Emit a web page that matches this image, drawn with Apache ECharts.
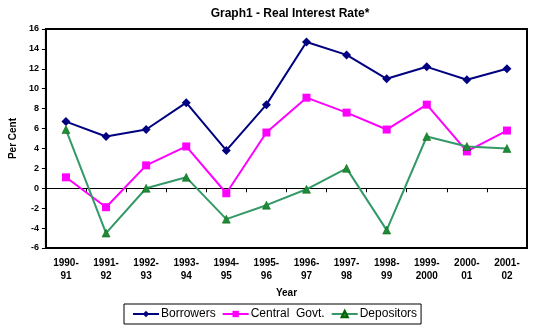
<!DOCTYPE html>
<html><head><meta charset="utf-8">
<script src="https://cdn.jsdelivr.net/npm/echarts@6/dist/echarts.min.js"></script>
<style>html,body{margin:0;padding:0;background:#fff}#c{width:541px;height:336px}</style>
</head><body><div id="c"></div>
<script>
const categories = ['1990-\n91','1991-\n92','1992-\n93','1993-\n94','1994-\n95','1995-\n96','1996-\n97','1997-\n98','1998-\n99','1999-\n2000','2000-\n01','2001-\n02'];
const borrowers = [6.7, 5.2, 5.9, 8.6, 3.8, 8.4, 14.7, 13.4, 11.0, 12.2, 10.9, 12.0];
const centralGovt = [1.1, -1.9, 2.3, 4.2, -0.5, 5.6, 9.1, 7.6, 5.9, 8.4, 3.7, 5.8];
const depositors = [5.9, -4.5, 0.0, 1.1, -3.1, -1.7, -0.1, 2.0, -4.2, 5.2, 4.2, 4.0];
const yTicks = {min: -6, max: 16, interval: 2};

const chart = echarts.init(document.getElementById('c'), null, {renderer: 'canvas'});
const font = 'Liberation Sans, Arial, sans-serif';
chart.setOption({
  animation: false,
  backgroundColor: '#fff',
  title: {
    text: 'Graph1 - Real Interest Rate*', left: 285, top: 3, textAlign: 'center',
    textStyle: {fontFamily: font, fontSize: 12, fontWeight: 'bold', color: '#000'}
  },
  grid: {left: 40, right: 14, top: 29, bottom: 88, show: true, borderColor: '#000', borderWidth: 2, backgroundColor: 'transparent'},
  legend: {
    left: 124, top: 304, width: 298,
    itemWidth: 26, itemHeight: 8, itemGap: 6,
    padding: [4, 4, 4, 8],
    borderColor: '#000', borderWidth: 1,
    textStyle: {fontFamily: font, fontSize: 12, color: '#000', padding: [0,0,0,-3]},
    data: ['Borrowers', 'Central  Govt.', 'Depositors']
  },
  xAxis: [{
    type: 'category', data: categories, position: 'bottom',
    axisLine: {show: false, onZero: false}, axisTick: {show: false},
    axisLabel: {fontFamily: font, fontSize: 10, fontWeight: 'bold', color: '#000', margin: 9, lineHeight: 13, interval: 0},
    name: 'Year', nameLocation: 'middle', nameGap: 40,
    nameTextStyle: {fontFamily: font, fontSize: 10, fontWeight: 'bold', color: '#000'}
  }, {
    type: 'category', data: categories, position: 'bottom',
    axisLine: {show: true, onZero: true, lineStyle: {color: '#000', width: 1}},
    axisTick: {show: true, length: 4, lineStyle: {color: '#000'}},
    axisLabel: {show: false}
  }],
  yAxis: {
    type: 'value', min: yTicks.min, max: yTicks.max, interval: yTicks.interval,
    axisLine: {show: true, lineStyle: {color: '#000', width: 2}},
    axisTick: {show: true, length: 4, lineStyle: {color: '#000'}},
    splitLine: {show: false},
    axisLabel: {fontFamily: font, fontSize: 9, fontWeight: 'bold', color: '#000', margin: 7},
    name: 'Per Cent', nameLocation: 'middle', nameGap: 24, nameRotate: 90,
    nameTextStyle: {fontFamily: font, fontSize: 10, fontWeight: 'bold', color: '#000'}
  },
  series: [{
    name: 'Borrowers', type: 'line', data: borrowers,
    symbol: 'diamond', symbolSize: 9,
    lineStyle: {color: '#000080', width: 2}, itemStyle: {color: '#000080'}
  }, {
    name: 'Central  Govt.', type: 'line', data: centralGovt,
    symbol: 'rect', symbolSize: 8,
    lineStyle: {color: '#FF00FF', width: 2}, itemStyle: {color: '#FF00FF'}
  }, {
    name: 'Depositors', type: 'line', data: depositors,
    symbol: 'triangle', symbolSize: 8,
    lineStyle: {color: '#339966', width: 2}, itemStyle: {color: '#1f8a3a', borderColor: '#006400', borderWidth: 0.5}
  }]
});
</script></body></html>
